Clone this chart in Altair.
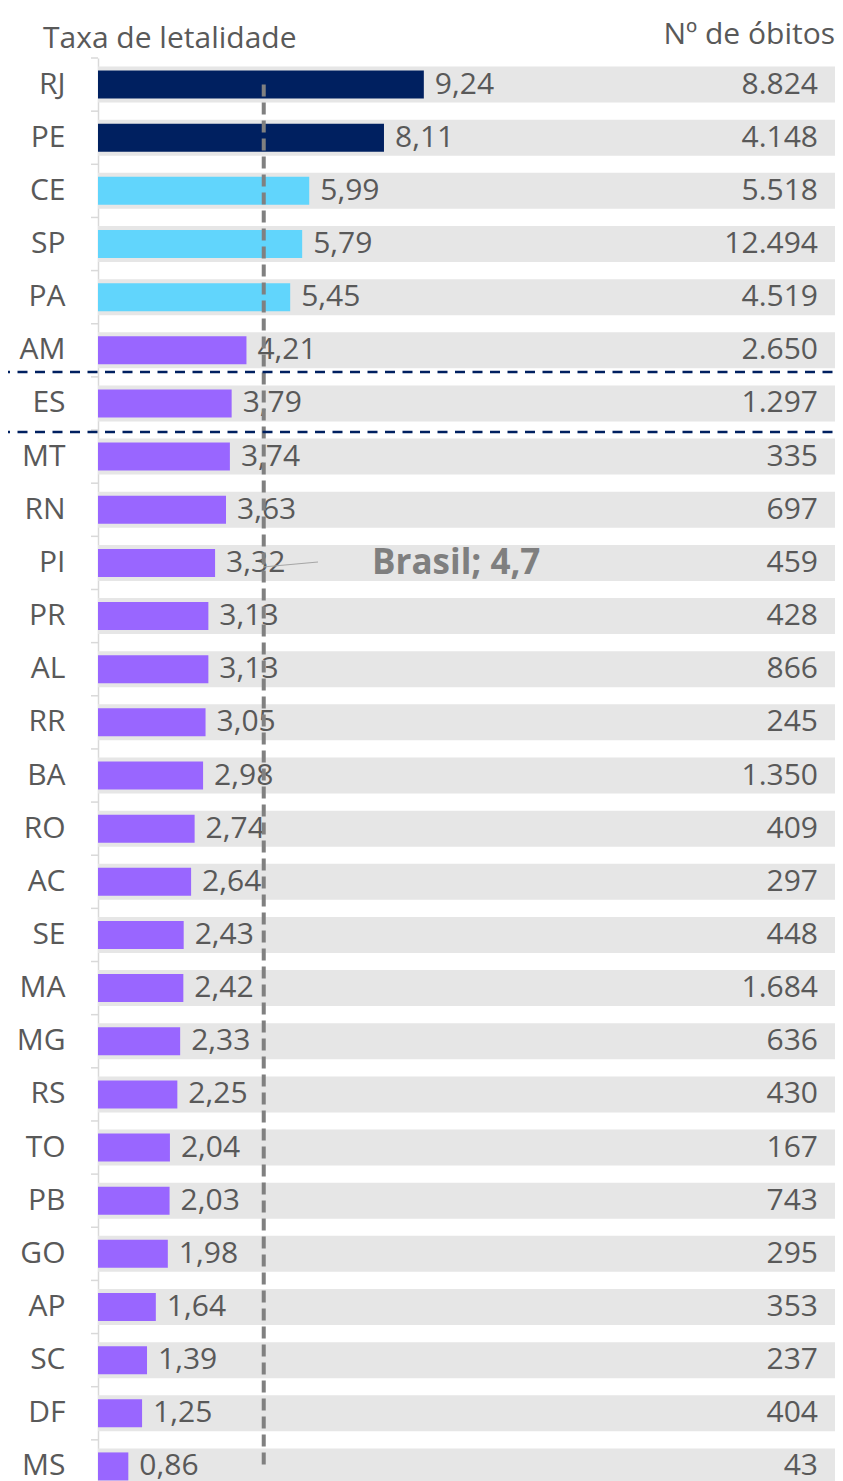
import altair as alt
import pandas as pd

states = ["RJ", "PE", "CE", "SP", "PA", "AM", "ES", "MT", "RN", "PI", "PR", "AL", "RR", "BA",
          "RO", "AC", "SE", "MA", "MG", "RS", "TO", "PB", "GO", "AP", "SC", "DF", "MS"]
rates = [9.24, 8.11, 5.99, 5.79, 5.45, 4.21, 3.79, 3.74, 3.63, 3.32, 3.13, 3.13, 3.05, 2.98,
         2.74, 2.64, 2.43, 2.42, 2.33, 2.25, 2.04, 2.03, 1.98, 1.64, 1.39, 1.25, 0.86]
deaths = [8824, 4148, 5518, 12494, 4519, 2650, 1297, 335, 697, 459, 428, 866, 245, 1350,
          409, 297, 448, 1684, 636, 430, 167, 743, 295, 353, 237, 404, 43]
groups = ["alto"] * 2 + ["medio"] * 3 + ["baixo"] * 22
brasil = 4.7

FONT = "Open Sans"
TXT = "#595959"
FS = 30

df = pd.DataFrame({
    "estado": states,
    "taxa": rates,
    "obitos": deaths,
    "grupo": groups,
})
df["taxa_lbl"] = [f"{v:.2f}".replace(".", ",") for v in rates]
df["obitos_lbl"] = [f"{v:,}".replace(",", ".") for v in deaths]

W, H = 737, 1435

yscale = alt.Scale(domain=states, paddingInner=0, paddingOuter=0)
yenc = alt.Y("estado:N", sort=None, scale=yscale,
             axis=alt.Axis(title=None, ticks=False, labelPadding=33, labelFontSize=FS,
                           labelFont=FONT, labelColor=TXT, domainColor="#d9d9d9",
                           domainWidth=1.5))
ysimple = alt.Y("estado:N", sort=None, scale=yscale)
xscale = alt.Scale(domain=[0, 20.9], nice=False, zero=True)

base = alt.Chart(df)

bg = base.mark_bar(color="#e6e6e6", size=36).encode(
    y=yenc, x=alt.value(0), x2=alt.value(W))

bars = base.mark_bar(size=28).encode(
    y=ysimple,
    x=alt.X("taxa:Q", scale=xscale, axis=None),
    color=alt.Color("grupo:N", legend=None,
                    scale=alt.Scale(domain=["alto", "medio", "baixo"],
                                    range=["#002060", "#61d5fc", "#9966ff"])))

vals = base.mark_text(align="left", baseline="middle", dx=11, fontSize=FS, font=FONT,
                      color=TXT).encode(
    y=ysimple,
    x=alt.X("taxa:Q", scale=xscale),
    text="taxa_lbl:N")

cnts = base.mark_text(align="right", baseline="middle", fontSize=FS, font=FONT,
                      color=TXT).encode(
    y=ysimple,
    x=alt.value(720),
    text="obitos_lbl:N")

ticks = base.mark_rule(color="#d9d9d9", strokeWidth=1.5).encode(
    y=alt.Y("estado:N", sort=None, scale=yscale, bandPosition=0),
    x=alt.value(-7), x2=alt.value(0))

sep_df = pd.DataFrame({"estado": ["ES"]})
sep_top = alt.Chart(sep_df).mark_rule(color="#002060", strokeWidth=2.5, yOffset=-5,
                                      strokeDash=[10, 7.5]).encode(
    y=alt.Y("estado:N", sort=None, scale=yscale, bandPosition=0),
    x=alt.value(-98), x2=alt.value(745))
sep_bot = alt.Chart(sep_df).mark_rule(color="#002060", strokeWidth=2.5, yOffset=2,
                                      strokeDash=[10, 7.5]).encode(
    y=alt.Y("estado:N", sort=None, scale=yscale, bandPosition=1),
    x=alt.value(-98), x2=alt.value(745))

ref_df = pd.DataFrame({"v": [brasil], "estado": [states[0]], "y2": [states[-1]],
                       "lbl": ["Brasil; " + f"{brasil}".replace(".", ",")]})
ref = alt.Chart(ref_df).mark_rule(color="#808080", strokeWidth=4, strokeDash=[12, 6]).encode(
    x=alt.X("v:Q", scale=xscale),
    y=ysimple,
    y2="y2:N")

leader = alt.Chart(ref_df).mark_rule(color="#a6a6a6", strokeWidth=1.2).encode(
    x=alt.value(165), x2=alt.value(220), y=alt.value(509), y2=alt.value(504))

pi_df = pd.DataFrame({"estado": ["PI"], "lbl": ref_df["lbl"]})
ref_lbl = alt.Chart(pi_df).mark_text(align="left", baseline="middle", fontSize=35,
                                     font=FONT, fontWeight="bold", color="#7f7f7f").encode(
    x=alt.value(274), y=ysimple, text="lbl:N")

t1 = alt.Chart(ref_df).mark_text(align="left", baseline="middle", fontSize=30, font=FONT,
                                 color=TXT, text="Taxa de letalidade").encode(
    x=alt.value(-55), y=alt.value(-19))
t2 = alt.Chart(ref_df).mark_text(align="right", baseline="middle", fontSize=30, font=FONT,
                                 color=TXT, text="Nº de óbitos").encode(
    x=alt.value(737), y=alt.value(-23))

chart = alt.layer(bg, bars, vals, cnts, ticks, ref, leader, ref_lbl, sep_top, sep_bot, t1, t2
                  ).properties(
    width=W, height=H,
    autosize=alt.AutoSizeParams(type="none"),
    padding={"left": 90, "top": 50, "right": 0, "bottom": 0},
).configure_view(stroke=None)

chart.save("out.html", embed_options={"renderer": "svg", "actions": False})
